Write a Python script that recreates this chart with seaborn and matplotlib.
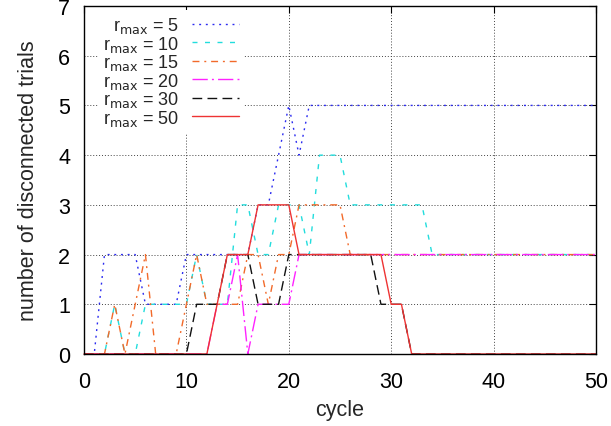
import matplotlib
matplotlib.use("Agg")
import matplotlib.pyplot as plt
import seaborn as sns

cycles = list(range(51))

r5 = [0, 0, 2, 2, 2, 2, 1, 1, 1, 1, 2, 2, 2, 2, 2, 2, 2, 3, 3, 4, 5, 4, 5,
      5, 5, 5, 5, 5, 5, 5, 5, 5, 5, 5, 5, 5, 5, 5, 5, 5, 5, 5, 5, 5, 5, 5, 5, 5, 5, 5, 5]
r10 = [0, 0, 0, 1, 0, 0, 1, 1, 1, 1, 1, 2, 1, 1, 1, 3, 3, 2, 2, 3, 3, 3, 2, 4, 4, 4,
       3, 3, 3, 3, 3, 3, 3, 3, 2, 2, 2, 2, 2, 2, 2, 2, 2, 2, 2, 2, 2, 2, 2, 2, 2]
r15 = [0, 0, 0, 1, 0, 1, 2, 0, 0, 0, 1, 2, 1, 1, 1, 1, 2, 2, 1, 2, 2, 3, 3, 3, 3, 3,
       2, 2, 2, 2, 2, 2, 2, 2, 2, 2, 2, 2, 2, 2, 2, 2, 2, 2, 2, 2, 2, 2, 2, 2, 2]
r20 = [0, 0, 0, 0, 0, 0, 0, 0, 0, 0, 0, 0, 0, 1, 1, 2, 0, 1, 1, 1, 1, 2, 2, 2, 2, 2,
       2, 2, 2, 2, 2, 2, 2, 2, 2, 2, 2, 2, 2, 2, 2, 2, 2, 2, 2, 2, 2, 2, 2, 2, 2]
r30 = [0, 0, 0, 0, 0, 0, 0, 0, 0, 0, 0, 1, 1, 1, 2, 2, 2, 1, 1, 1, 2, 2, 2, 2, 2, 2,
       2, 2, 2, 1, 1, 1, 0, 0, 0, 0, 0, 0, 0, 0, 0, 0, 0, 0, 0, 0, 0, 0, 0, 0, 0]
r50 = [0, 0, 0, 0, 0, 0, 0, 0, 0, 0, 0, 0, 0, 1, 2, 2, 2, 3, 3, 3, 3, 2, 2, 2, 2, 2,
       2, 2, 2, 2, 1, 1, 0, 0, 0, 0, 0, 0, 0, 0, 0, 0, 0, 0, 0, 0, 0, 0, 0, 0, 0]

labels = ["r$_{\\rm max}$ = 5", "r$_{\\rm max}$ = 10", "r$_{\\rm max}$ = 15",
          "r$_{\\rm max}$ = 20", "r$_{\\rm max}$ = 30", "r$_{\\rm max}$ = 50"]
series = [r5, r10, r15, r20, r30, r50]
colors = ["#2a2af0", "#22dddd", "#f26a2a", "#ff22ff", "#111111", "#ee3333"]
styles = [(0, (1.4, 3.4)), (0, (3.6, 5.4)), (0, (5, 3.5, 1.4, 3.5)),
          (0, (11, 3, 1.4, 3)), (0, (7, 3.8)), "-"]

sns.set_theme(style="white")
plt.rcParams["font.family"] = ["Liberation Sans", "DejaVu Sans"]
plt.rcParams["mathtext.default"] = "regular"

fig = plt.figure(figsize=(6.11, 4.27), dpi=100)
ax = fig.add_axes([84 / 611, 72 / 427, 512 / 611, 348 / 427])

for vals, lab, col, ls in zip(series, labels, colors, styles):
    sns.lineplot(x=cycles, y=vals, ax=ax, color=col, linestyle=ls,
                 linewidth=1.0, label=lab, clip_on=False)

ax.set_xlim(0, 50)
ax.set_ylim(0, 7)
ax.set_xticks(range(0, 51, 10))
ax.set_yticks(range(0, 8))
ax.grid(True, color="#444444", linestyle=(0, (1, 2)), linewidth=0.7)
for s in ax.spines.values():
    s.set_color("black")
    s.set_linewidth(1.0)
ax.tick_params(direction="in", length=5, width=0.8, top=True, right=True,
               labelsize=15.5, colors="black")
ax.tick_params(axis="x", pad=12)
ax.tick_params(axis="y", pad=10)
ax.set_xlabel("cycle", fontsize=15.5, labelpad=5)
ax.set_ylabel("number of disconnected trials", fontsize=15.5, labelpad=14)

leg = ax.legend(loc="upper left", bbox_to_anchor=(0.02, 1.0), markerfirst=False,
                fontsize=13, frameon=True, fancybox=False, framealpha=1,
                edgecolor="none", facecolor="white", handlelength=2.6,
                handletextpad=0.7, labelspacing=-0.08, borderpad=0.3,
                borderaxespad=0.2)

fig.savefig("out.png", dpi=100)
